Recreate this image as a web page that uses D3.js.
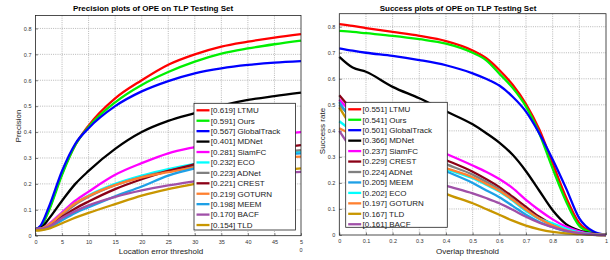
<!DOCTYPE html>
<html>
<head>
<meta charset="utf-8">
<script src="https://cdn.jsdelivr.net/npm/d3@7"></script>
<style>
  body { margin: 0; background: #fff; }
  svg { display: block; font-family: "Liberation Sans", Arial, sans-serif; }
</style>
</head>
<body>
<svg id="chart" width="610" height="260"></svg>
<script>
// ---- precision plot data (location error threshold) ----
const precX = [0, 1, 2.5, 5, 7.5, 10, 15, 20, 25, 30, 35, 40, 45, 50];
const precLTMU        = [0.025, 0.035, 0.100, 0.240, 0.350, 0.425, 0.530, 0.600, 0.660, 0.700, 0.730, 0.749, 0.765, 0.778];
const precOurs        = [0.025, 0.035, 0.095, 0.235, 0.350, 0.420, 0.515, 0.582, 0.632, 0.672, 0.703, 0.723, 0.739, 0.753];
const precGlobalTrack = [0.025, 0.040, 0.110, 0.250, 0.355, 0.415, 0.500, 0.557, 0.597, 0.627, 0.646, 0.659, 0.668, 0.674];
const precMDNet       = [0.025, 0.030, 0.065, 0.135, 0.200, 0.250, 0.335, 0.400, 0.443, 0.473, 0.502, 0.524, 0.539, 0.552];
const precSiamFC      = [0.025, 0.027, 0.045, 0.090, 0.135, 0.170, 0.235, 0.280, 0.318, 0.342, 0.362, 0.378, 0.390, 0.400];
const precECO         = [0.025, 0.027, 0.042, 0.085, 0.125, 0.155, 0.200, 0.232, 0.257, 0.277, 0.293, 0.307, 0.318, 0.325];
const precADNet       = [0.025, 0.027, 0.040, 0.080, 0.120, 0.150, 0.195, 0.226, 0.250, 0.270, 0.289, 0.306, 0.320, 0.330];
const precCREST       = [0.025, 0.026, 0.037, 0.072, 0.105, 0.132, 0.180, 0.218, 0.250, 0.276, 0.300, 0.320, 0.337, 0.350];
const precGOTURN      = [0.025, 0.027, 0.042, 0.085, 0.125, 0.153, 0.195, 0.225, 0.245, 0.264, 0.279, 0.291, 0.300, 0.305];
const precMEEM        = [0.022, 0.023, 0.030, 0.060, 0.088, 0.110, 0.152, 0.190, 0.232, 0.260, 0.280, 0.297, 0.310, 0.318];
const precBACF        = [0.025, 0.026, 0.035, 0.068, 0.095, 0.117, 0.150, 0.175, 0.194, 0.210, 0.222, 0.232, 0.240, 0.246];
const precTLD         = [0.020, 0.021, 0.027, 0.048, 0.070, 0.088, 0.122, 0.155, 0.180, 0.200, 0.220, 0.237, 0.250, 0.260];

// ---- success plot data (overlap threshold) ----
const succX = [0, 0.05, 0.1, 0.2, 0.3, 0.4, 0.5, 0.55, 0.6, 0.65, 0.7, 0.75, 0.8, 0.85, 0.9, 0.95, 1];
const succLTMU        = [0.810, 0.803, 0.795, 0.780, 0.765, 0.745, 0.709, 0.680, 0.634, 0.577, 0.503, 0.405, 0.275, 0.145, 0.045, 0.010, 0];
const succOurs        = [0.784, 0.780, 0.775, 0.765, 0.752, 0.735, 0.700, 0.672, 0.620, 0.565, 0.493, 0.390, 0.255, 0.130, 0.035, 0.008, 0];
const succGlobalTrack = [0.717, 0.708, 0.700, 0.688, 0.672, 0.652, 0.621, 0.600, 0.574, 0.531, 0.474, 0.390, 0.290, 0.180, 0.064, 0.015, 0];
const succMDNet       = [0.684, 0.643, 0.627, 0.569, 0.525, 0.475, 0.425, 0.392, 0.355, 0.308, 0.245, 0.170, 0.095, 0.042, 0.017, 0.005, 0];
const succSiamFC      = [0.520, 0.470, 0.440, 0.400, 0.355, 0.312, 0.267, 0.243, 0.215, 0.180, 0.135, 0.095, 0.060, 0.032, 0.014, 0.004, 0];
const succCREST       = [0.537, 0.480, 0.440, 0.380, 0.330, 0.288, 0.243, 0.215, 0.184, 0.147, 0.108, 0.070, 0.040, 0.020, 0.008, 0.002, 0];
const succADNet       = [0.500, 0.450, 0.410, 0.360, 0.315, 0.272, 0.232, 0.205, 0.175, 0.138, 0.098, 0.063, 0.036, 0.018, 0.007, 0.002, 0];
const succMEEM        = [0.510, 0.440, 0.400, 0.340, 0.290, 0.245, 0.200, 0.172, 0.145, 0.112, 0.078, 0.050, 0.030, 0.014, 0.005, 0.001, 0];
const succECO         = [0.437, 0.400, 0.375, 0.335, 0.295, 0.253, 0.218, 0.193, 0.167, 0.132, 0.092, 0.062, 0.045, 0.025, 0.010, 0.003, 0];
const succGOTURN      = [0.410, 0.385, 0.365, 0.330, 0.293, 0.257, 0.222, 0.197, 0.170, 0.135, 0.097, 0.062, 0.037, 0.018, 0.007, 0.002, 0];
const succTLD         = [0.490, 0.410, 0.350, 0.270, 0.210, 0.158, 0.122, 0.100, 0.078, 0.055, 0.036, 0.022, 0.012, 0.006, 0.003, 0.001, 0];
const succBACF        = [0.400, 0.330, 0.300, 0.260, 0.225, 0.190, 0.160, 0.142, 0.122, 0.097, 0.070, 0.047, 0.030, 0.016, 0.007, 0.002, 0];

// legend entries (ranked as in the figure)
const precNames  = ["LTMU", "Ours", "GlobalTrack", "MDNet", "SiamFC", "ECO", "ADNet", "CREST", "GOTURN", "MEEM", "BACF", "TLD"];
const precScores = ["0.619", "0.591", "0.567", "0.401", "0.281", "0.232", "0.223", "0.221", "0.219", "0.198", "0.170", "0.154"];
const precSeries = [precLTMU, precOurs, precGlobalTrack, precMDNet, precSiamFC, precECO, precADNet, precCREST, precGOTURN, precMEEM, precBACF, precTLD];

const succNames  = ["LTMU", "Ours", "GlobalTrack", "MDNet", "SiamFC", "CREST", "ADNet", "MEEM", "ECO", "GOTURN", "TLD", "BACF"];
const succScores = ["0.551", "0.541", "0.501", "0.366", "0.237", "0.229", "0.224", "0.205", "0.202", "0.197", "0.167", "0.161"];
const succSeries = [succLTMU, succOurs, succGlobalTrack, succMDNet, succSiamFC, succCREST, succADNet, succMEEM, succECO, succGOTURN, succTLD, succBACF];

const precXTicks = [0, 5, 10, 15, 20, 25, 30, 35, 40, 45, 50];
const succXTicks = [0, 0.1, 0.2, 0.3, 0.4, 0.5, 0.6, 0.7, 0.8, 0.9, 1];
const yTicks = [0, 0.1, 0.2, 0.3, 0.4, 0.5, 0.6, 0.7, 0.8];

const trackerColor = {
  LTMU: "#ff0000", Ours: "#00f000", GlobalTrack: "#0000ff", MDNet: "#000000",
  SiamFC: "#ff00ff", ECO: "#00ffff", ADNet: "#808080", CREST: "#8b0016",
  GOTURN: "#ff8030", MEEM: "#1ea0e6", BACF: "#a050a8", TLD: "#c89600"
};

const svg = d3.select("#chart");

function drawPanel(opt) {
  const x = d3.scaleLinear().domain(opt.xDomain).range([opt.left, opt.right]);
  const y = d3.scaleLinear().domain([0, 0.85]).range([opt.bottom, opt.top]);
  const g = svg.append("g");

  // dotted grid
  g.append("g").selectAll("line.vg")
    .data(opt.xTicks.slice(1, -1))
    .join("line")
    .attr("x1", d => x(d)).attr("x2", d => x(d))
    .attr("y1", opt.top).attr("y2", opt.bottom)
    .attr("stroke", "#9a9a9a").attr("stroke-width", 0.7)
    .attr("stroke-dasharray", "1,1.2");
  g.append("g").selectAll("line.hg")
    .data(yTicks.slice(1))
    .join("line")
    .attr("x1", opt.left).attr("x2", opt.right)
    .attr("y1", d => y(d)).attr("y2", d => y(d))
    .attr("stroke", "#9a9a9a").attr("stroke-width", 0.7)
    .attr("stroke-dasharray", "1,1.2");

  // axes (MATLAB-like inward ticks)
  const xAxis = g.append("g")
    .attr("transform", `translate(0,${opt.bottom})`)
    .call(d3.axisBottom(x).tickValues(opt.xTicks).tickSizeInner(-2.5).tickSizeOuter(0)
      .tickPadding(4).tickFormat(opt.xFormat));
  const yAxis = g.append("g")
    .attr("transform", `translate(${opt.left},0)`)
    .call(d3.axisLeft(y).tickValues(yTicks).tickSizeInner(-2.5).tickSizeOuter(0)
      .tickPadding(4).tickFormat(d => d === 0 ? "0" : d3.format(".1f")(d)));
  [xAxis, yAxis].forEach(a => {
    a.select(".domain").remove();
    a.selectAll(".tick line").attr("stroke", "#333").attr("stroke-width", 0.6);
    a.selectAll(".tick text").attr("font-size", 5.5).attr("fill", "#333");
  });

  // curves
  const line = d3.line()
    .x((d, i) => x(opt.xs[i]))
    .y(d => y(d))
    .curve(d3.curveMonotoneX);
  g.append("g").selectAll("path")
    .data(opt.series.map((s, i) => ({ name: opt.names[i], values: s })))
    .join("path")
    .attr("fill", "none")
    .attr("stroke", d => trackerColor[d.name])
    .attr("stroke-width", 2.3)
    .attr("stroke-linejoin", "round")
    .attr("d", d => line(d.values));

  // frame
  g.append("rect")
    .attr("x", opt.left).attr("y", opt.top)
    .attr("width", opt.right - opt.left).attr("height", opt.bottom - opt.top)
    .attr("fill", "none").attr("stroke", "#222").attr("stroke-width", 0.8);

  // title and labels
  g.append("text")
    .attr("x", opt.titleX).attr("y", 10.5)
    .attr("text-anchor", "middle").attr("font-size", 8).attr("font-weight", "bold")
    .text(opt.title);
  g.append("text")
    .attr("x", opt.xLabelX).attr("y", 254)
    .attr("text-anchor", "middle").attr("font-size", 8).attr("fill", "#222")
    .text(opt.xLabel);
  g.append("text")
    .attr("transform", `translate(${opt.yLabelX},${opt.yLabelY}) rotate(-90)`)
    .attr("text-anchor", "middle").attr("font-size", 8).attr("fill", "#222")
    .text(opt.yLabel);

  // legend
  const lg = g.append("g");
  lg.append("rect")
    .attr("x", opt.legend.x).attr("y", opt.legend.y)
    .attr("width", opt.legend.w).attr("height", opt.legend.h)
    .attr("fill", "#fff").attr("stroke", "#222").attr("stroke-width", 0.8);
  const item = lg.selectAll("g.item")
    .data(opt.names.map((n, i) => ({ name: n, score: opt.scores[i] })))
    .join("g")
    .attr("transform", (d, i) => `translate(${opt.legend.x},${opt.legend.y + 7 + i * opt.legend.step})`);
  item.append("line")
    .attr("x1", 2.5).attr("x2", 15.5)
    .attr("stroke", d => trackerColor[d.name]).attr("stroke-width", 2.3);
  item.append("text")
    .attr("x", 16.8).attr("dy", "0.35em")
    .attr("font-size", 8).attr("fill", "#222")
    .text(d => `[${d.score}] ${d.name}`);

  return { x, y, g };
}

const prec = drawPanel({
  left: 35.5, right: 301, top: 15.5, bottom: 235.7,
  xDomain: [0, 50], xs: precX, xTicks: precXTicks,
  xFormat: d => d === 50 ? "5" : String(d),
  series: precSeries, names: precNames, scores: precScores,
  title: "Precision plots of OPE on TLP Testing Set", titleX: 153,
  xLabel: "Location error threshold", xLabelX: 161,
  yLabel: "Precision", yLabelX: 20.5, yLabelY: 126,
  legend: { x: 194, y: 103.3, w: 101.5, h: 126.7, step: 10.43 }
});
// the clipped "50" label wraps onto a second line in the original
prec.g.append("text")
  .attr("x", prec.x(50)).attr("y", 251.5)
  .attr("text-anchor", "middle").attr("font-size", 5.5).attr("fill", "#333")
  .text("0");

drawPanel({
  left: 339.3, right: 606, top: 13.7, bottom: 235,
  xDomain: [0, 1], xs: succX, xTicks: succXTicks,
  xFormat: d => d === 0 ? "0" : (d === 1 ? "1" : d3.format(".1f")(d)),
  series: succSeries, names: succNames, scores: succScores,
  title: "Success plots of OPE on TLP Testing Set", titleX: 458,
  xLabel: "Overlap threshold", xLabelX: 467.5,
  yLabel: "Success rate", yLabelX: 324.5, yLabelY: 131,
  legend: { x: 345.7, y: 102.3, w: 101.6, h: 125, step: 10.45 }
});
</script>
</body>
</html>
